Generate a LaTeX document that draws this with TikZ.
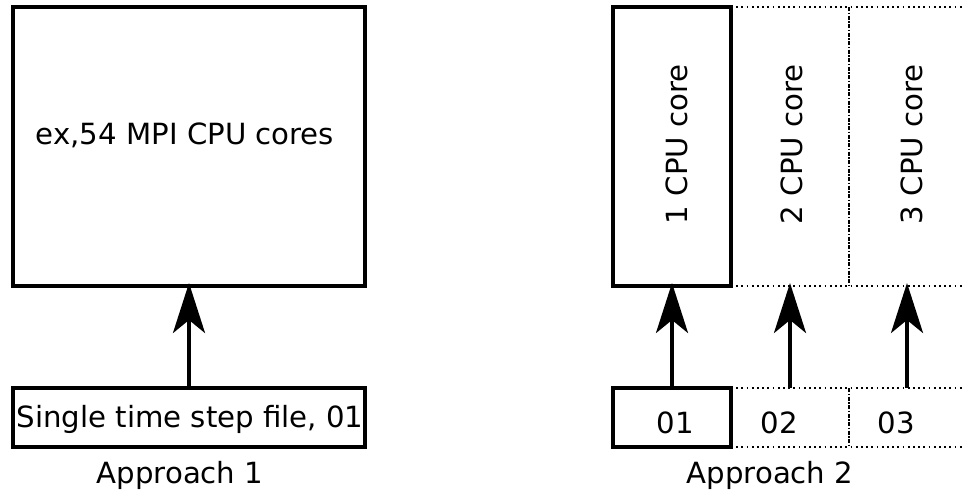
\documentclass[tikz,border=0pt]{standalone}
\usepackage{fontspec}
\setmainfont{DejaVu Sans}
\usetikzlibrary{arrows.meta}
\begin{document}
\begin{tikzpicture}[x=1pt,y=-1pt,
  every node/.style={font=\fontsize{29.2}{35}\selectfont, inner sep=0pt, outer sep=0pt},
  solidbox/.style={draw, line width=3.2pt, rectangle},
  ghostbox/.style={rectangle},
  dotline/.style={line width=2pt, dash pattern=on 1.8pt off 3.4pt},
  dashdotline/.style={line width=2pt, dash pattern=on 4pt off 1.5pt on 1.5pt off 1.5pt},
  arr/.style={line width=3.6pt, -{Stealth[length=50pt,width=32pt,inset=13pt]}, shorten >=-3pt},
  txt/.style={anchor=base}]
\useasboundingbox (0,0) rectangle (965,493);
% Approach 1
\node[solidbox, minimum width=352pt, minimum height=279pt] (mpi) at (189,146.5) {};
\node[solidbox, minimum width=352pt, minimum height=59pt] (file) at (189,417.5) {};
\node[txt] (mpitxt) at (185,144) {ex,54 MPI CPU cores};
\node[txt] (filetxt) at (190,427) {Single time step file, 01};
\node[txt] (ap1) at (180,483) {Approach 1};
\draw[arr] (file.north) -- (mpi.south);
% Approach 2
\node[solidbox, minimum width=118pt, minimum height=279pt] (c1) at (672,146.5) {};
\node[ghostbox, minimum width=118pt, minimum height=279pt] (c2) at (790,146.5) {};
\node[ghostbox, minimum width=116pt, minimum height=279pt] (c3) at (907,146.5) {};
\node[solidbox, minimum width=118pt, minimum height=59pt] (f1) at (672,417.5) {};
\node[ghostbox, minimum width=118pt, minimum height=59pt] (f2) at (790,417.5) {};
\node[ghostbox, minimum width=116pt, minimum height=59pt] (f3) at (907,417.5) {};
\draw[dotline] (c1.north east) -- (c3.north east);
\draw[dotline] (c1.south east) -- (c3.south east);
\draw[dashdotline] (c3.north west) -- (c3.south west);
\draw[dotline] (f1.north east) -- (f3.north east);
\draw[dotline] (f1.south east) -- (f3.south east);
\draw[dashdotline] (f3.north west) -- (f3.south west);
\node[rotate=90, anchor=base west] (t1) at (687,224) {1 CPU core};
\node[rotate=90, anchor=base west] (t2) at (802,224) {2 CPU core};
\node[rotate=90, anchor=base west] (t3) at (922,224) {3 CPU core};
\node[txt] (n1) at (675,433) {01};
\node[txt] (n2) at (779,433) {02};
\node[txt] (n3) at (896,433) {03};
\node[txt] (ap2) at (770,483) {Approach 2};
\draw[arr] (f1.north) -- (c1.south);
\draw[arr] (f2.north) -- (c2.south);
\draw[arr] (f3.north) -- (c3.south);
\end{tikzpicture}
\end{document}
